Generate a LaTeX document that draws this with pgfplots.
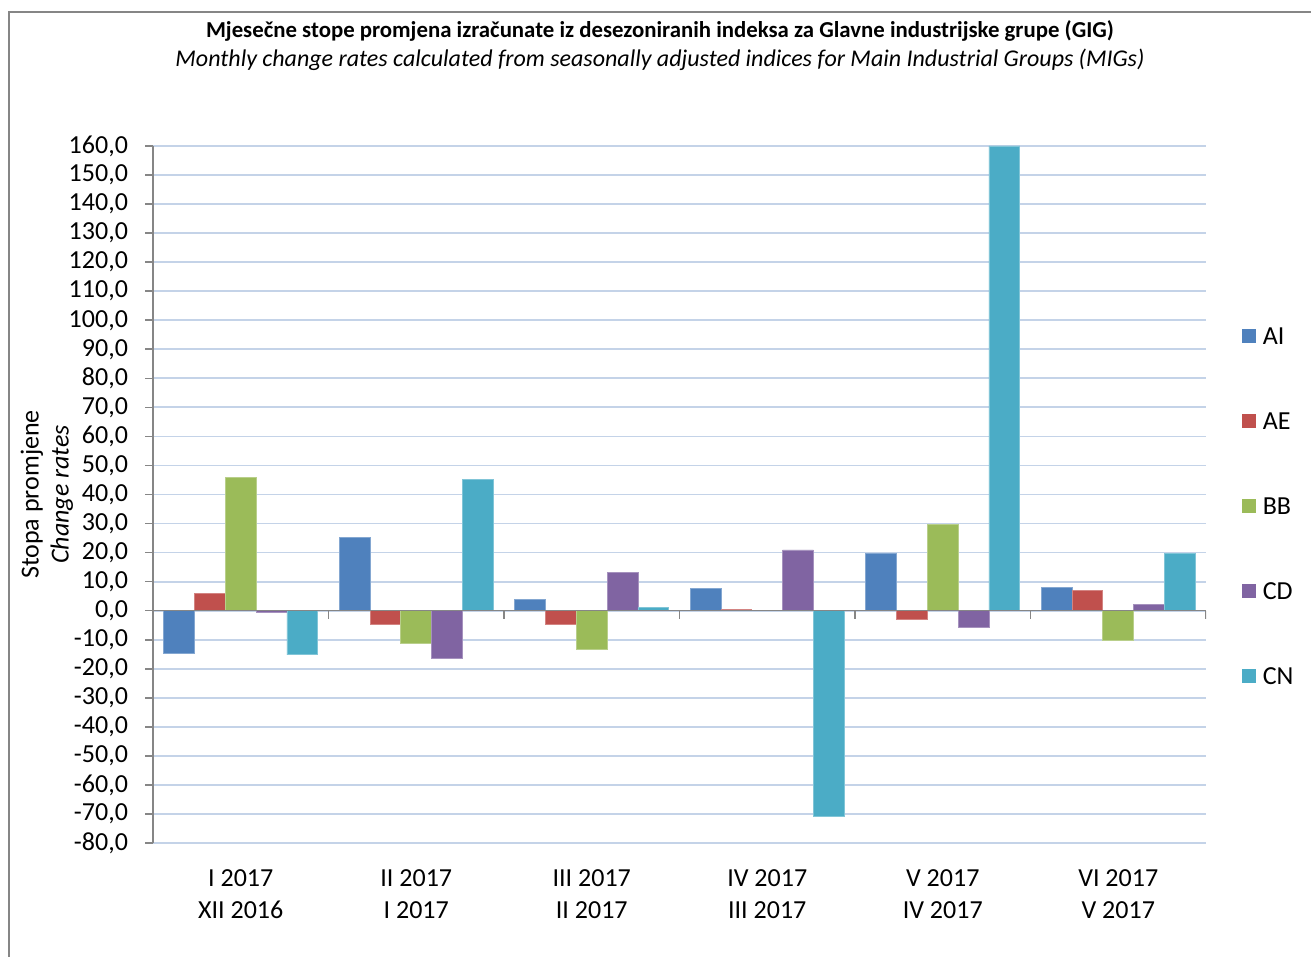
\documentclass[border=0pt]{standalone}
\usepackage{fontspec}
\setmainfont{Carlito}
\usepackage{pgfplots}
\pgfplotsset{compat=1.18}
\usetikzlibrary{calc}
\definecolor{cAI}{HTML}{4F81BD}
\definecolor{cAE}{HTML}{C0504D}
\definecolor{cBB}{HTML}{9BBB59}
\definecolor{cCD}{HTML}{8064A2}
\definecolor{cCN}{HTML}{4BACC6}
\definecolor{gridc}{HTML}{C4D3E8}
\definecolor{axisgray}{HTML}{868686}
\begin{document}
\begin{tikzpicture}
\begin{axis}[
  scale only axis, width=526.5pt, height=348.5pt,
  ymin=-80, ymax=160, ytick distance=10,
  xmin=-0.5, xmax=5.5,
  xtick={0,1,2,3,4,5},
  xticklabels={{I 2017\\XII 2016},{II 2017\\I 2017},{III 2017\\II 2017},{IV 2017\\III 2017},{V 2017\\IV 2017},{VI 2017\\V 2017}},
  xticklabel style={align=center, font=\fontsize{13}{16}\selectfont, yshift=-6pt},
  yticklabel style={font=\fontsize{13}{15}\selectfont, xshift=-5pt},
  /pgf/number format/.cd, fixed, fixed zerofill, precision=1, use comma, assume math mode=true, /pgfplots/.cd,
  axis y line*=left, axis x line*=bottom,
  x axis line style={draw=none},
  y axis line style={axisgray, line width=0.8pt},
  xtick style={draw=none},
  ytick style={axisgray, line width=0.8pt},
  tick align=outside, major tick length=4pt,
  ymajorgrids, grid style={gridc, line width=0.9pt},
  ybar=0pt, bar width=15.4pt,
  ylabel={Stopa promjene\\\textit{Change rates}},
  ylabel style={align=center, font=\fontsize{13}{15}\selectfont, at={(axis description cs:-0.1007,0.5)}, anchor=center},
  legend style={at={(1,0.482)}, anchor=west, xshift=18pt, draw=none, inner sep=0pt,
    font=\fontsize{13}{15}\selectfont, row sep=31.5pt,
    nodes={inner sep=0pt, text height=9pt, text depth=2pt}},
  legend cell align=left,
  legend image code/.code={\fill[#1,draw=none] (0pt,-3pt) rectangle (7pt,4pt); \path (10pt,0pt);},
]
\addplot[fill=cAI, draw=cAI!70!white] coordinates {(0,-14.8)(1,25.2)(2,3.9)(3,7.8)(4,19.7)(5,7.9)};
\addplot[fill=cAE, draw=cAE!70!white] coordinates {(0,5.9)(1,-4.8)(2,-4.9)(3,0.5)(4,-3.0)(5,6.9)};
\addplot[fill=cBB, draw=cBB!70!white] coordinates {(0,46.0)(1,-11.1)(2,-13.2)(3,0)(4,29.7)(5,-10.1)};
\addplot[fill=cCD, draw=cCD!70!white] coordinates {(0,-0.6)(1,-16.4)(2,13.2)(3,20.9)(4,-5.6)(5,2.2)};
\addplot[fill=cCN, draw=cCN!70!white] coordinates {(0,-15.2)(1,45.1)(2,1.0)(3,-71.0)(4,160)(5,19.7)};
\legend{AI,AE,BB,CD,CN}
\draw[axisgray, line width=0.8pt] (axis cs:-0.5,0) -- (axis cs:5.5,0);
\pgfplotsinvokeforeach{0.5,1.5,2.5,3.5,4.5,5.5}{\draw[axisgray, line width=0.8pt] (axis cs:#1,0) -- ([yshift=-4pt]axis cs:#1,0);}
\end{axis}
\path (current axis.south west) coordinate (SW) (current axis.north east) coordinate (NE);
\node[font=\bfseries\fontsize{11.4}{13}\selectfont] at ([xshift=-9.75pt,yshift=57.5pt]current axis.north) {Mjesečne stope promjena izračunate iz desezoniranih indeksa za Glavne industrijske grupe (GIG)};
\node[font=\itshape\fontsize{12}{14}\selectfont] at ([xshift=-9.75pt,yshift=43pt]current axis.north) {Monthly change rates calculated from seasonally adjusted indices for Main Industrial Groups (MIGs)};
\draw[axisgray, line width=0.8pt] ($(SW)+(-72pt,-60pt)$) |- ($(NE)+(60pt,67pt)$);
\pgfresetboundingbox
\useasboundingbox ($(SW)+(-76.5pt,-56.5pt)$) rectangle ($(NE)+(52.5pt,73pt)$);
\end{tikzpicture}
\end{document}
